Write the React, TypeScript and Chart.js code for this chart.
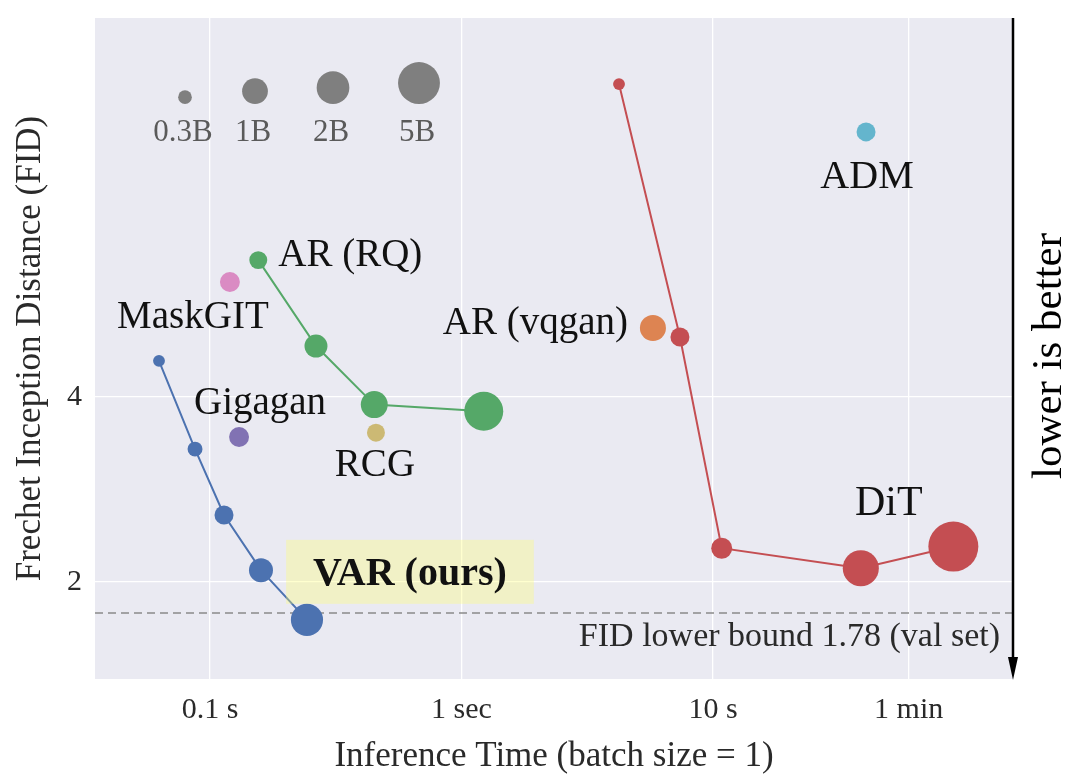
import React, { useEffect, useRef } from 'react';
import { Chart, registerables } from 'chart.js';

Chart.register(...registerables);

// ---------- data ----------
const X_TICKS = [0.1, 1, 10, 60];
const X_TICK_LABELS = ['0.1 s', '1 sec', '10 s', '1 min'];
const Y_TICKS = [2, 4];
const X_MIN = 0.0349;
const X_MAX = 155.9;
const Y_MIN = 1.39;
const Y_MAX = 16.55;
const FID_LOWER_BOUND = 1.78;

// VAR (ours)
const VAR_TIME = [0.0627, 0.0872, 0.1137, 0.1595, 0.243];
const VAR_FID = [4.58, 3.29, 2.57, 2.09, 1.735];
const VAR_PARAMS = [0.25, 0.34, 0.51, 0.84, 1.9];

// AR (RQ)
const RQ_TIME = [0.1556, 0.2639, 0.45, 1.226];
const RQ_FID = [6.68, 4.84, 3.887, 3.792];
const RQ_PARAMS = [0.46, 0.76, 1.13, 3.75];

// DiT
const DIT_TIME = [4.23, 7.39, 10.83, 38.7, 90.3];
const DIT_FID = [12.92, 5.007, 2.269, 2.105, 2.283];
const DIT_PARAMS = [0.25, 0.51, 0.62, 2.8, 11.2];

// single models
const SINGLE_NAMES = ['MaskGIT', 'Gigagan', 'RCG', 'AR (vqgan)', 'ADM'];
const SINGLE_TIME = [0.12, 0.1305, 0.457, 5.77, 40.6];
const SINGLE_FID = [6.155, 3.443, 3.499, 5.18, 10.8];
const SINGLE_PARAMS = [0.56, 0.56, 0.46, 1.03, 0.51];

// size legend (billions of params)
const SIZE_LEGEND = [0.3, 1, 2, 5];
const SIZE_LEGEND_LABELS = ['0.3B', '1B', '2B', '5B'];

// ---------- styles ----------
const SERIF = '"Liberation Serif", "Times New Roman", serif';
const C_BLUE = '#4C72B0';
const C_GREEN = '#55A868';
const C_RED = '#C44E52';
const SINGLE_COLORS = ['#DA8BC3', '#8172B3', '#CCB974', '#DD8452', '#64B5CD'];
const BG = '#EAEAF2';
const AXIS_TEXT = '#2a2a2a';

const sizeRadius = (p: number) => Math.max(4, 12.87 + 5.015 * Math.log(p));

const SERIES: Record<string, { t: number[]; f: number[] }> = {
  VAR: { t: VAR_TIME, f: VAR_FID },
  RQ: { t: RQ_TIME, f: RQ_FID },
  DIT: { t: DIT_TIME, f: DIT_FID },
  SINGLE: { t: SINGLE_TIME, f: SINGLE_FID },
};

// annotation placement (pixel offsets from an anchor point)
const ANNOTATIONS = [
  { text: 'AR (RQ)', s: 'RQ', i: 0, dx: 20, dy: -4, align: 'left', size: 39, bold: false },
  { text: SINGLE_NAMES[0], s: 'SINGLE', i: 0, dx: -37, dy: 36, align: 'center', size: 39, bold: false },
  { text: SINGLE_NAMES[3], s: 'SINGLE', i: 3, dx: -25, dy: -4, align: 'right', size: 39, bold: false },
  { text: SINGLE_NAMES[1], s: 'SINGLE', i: 1, dx: 21, dy: -33, align: 'center', size: 39, bold: false },
  { text: SINGLE_NAMES[2], s: 'SINGLE', i: 2, dx: -1, dy: 33, align: 'center', size: 39, bold: false },
  { text: SINGLE_NAMES[4], s: 'SINGLE', i: 4, dx: 1, dy: 46, align: 'center', size: 40, bold: false },
  { text: 'DiT', s: 'DIT', i: 3, dx: 28, dy: -64, align: 'center', size: 42, bold: false },
];

const zip = (t: number[], f: number[], p: number[]) =>
  t.map((x, i) => ({ x, y: f[i], p: p[i] }));

const radiusFn = (c: any) => (c.raw && c.raw.p ? sizeRadius(c.raw.p) : 5);

const noPad = (s: any) => {
  s.paddingTop = 0;
  s.paddingBottom = 0;
  s.paddingLeft = 0;
  s.paddingRight = 0;
};

const decor = {
  id: 'decor',
  beforeDraw(chart: any) {
    const { ctx, chartArea: a } = chart;
    ctx.save();
    ctx.fillStyle = BG;
    ctx.fillRect(a.left, a.top, a.right - a.left, a.bottom - a.top);
    ctx.restore();
  },
  beforeDatasetsDraw(chart: any) {
    const { ctx, chartArea: a, scales } = chart;
    const y = scales.y.getPixelForValue(FID_LOWER_BOUND);
    ctx.save();
    ctx.strokeStyle = '#8a8a8a';
    ctx.lineWidth = 1.5;
    ctx.setLineDash([8, 5]);
    ctx.beginPath();
    ctx.moveTo(a.left, y);
    ctx.lineTo(a.right, y);
    ctx.stroke();
    ctx.restore();
  },
  afterDatasetsDraw(chart: any) {
    const { ctx, chartArea: a, scales } = chart;
    const px = (s: string, i: number) => ({
      x: scales.x.getPixelForValue(SERIES[s].t[i]),
      y: scales.y.getPixelForValue(SERIES[s].f[i]),
    });
    ctx.save();

    // VAR (ours) highlighted label
    const vp = px('VAR', VAR_TIME.length - 1);
    const vx = vp.x + 103;
    const vy = vp.y - 45;
    ctx.font = `bold 40px ${SERIF}`;
    const vw = ctx.measureText('VAR (ours)').width;
    ctx.fillStyle = 'rgba(255, 255, 110, 0.33)';
    ctx.fillRect(vx - vw / 2 - 27, vy - 35, vw + 54, 64);
    ctx.fillStyle = '#111';
    ctx.textAlign = 'center';
    ctx.textBaseline = 'middle';
    ctx.fillText('VAR (ours)', vx, vy);

    // annotations
    for (const an of ANNOTATIONS) {
      const p = px(an.s, an.i);
      ctx.font = `${an.bold ? 'bold ' : ''}${an.size}px ${SERIF}`;
      ctx.textAlign = an.align as CanvasTextAlign;
      ctx.textBaseline = 'middle';
      ctx.fillStyle = '#111';
      ctx.fillText(an.text, p.x + an.dx, p.y + an.dy);
    }

    // size legend
    const lx = [90, 160, 238, 324];
    SIZE_LEGEND.forEach((s, i) => {
      const r = sizeRadius(s);
      const cx = a.left + lx[i];
      ctx.fillStyle = '#7f7f7f';
      ctx.beginPath();
      ctx.arc(cx, a.top + 86 - r, r, 0, Math.PI * 2);
      ctx.fill();
      ctx.font = `31px ${SERIF}`;
      ctx.fillStyle = '#5a5a5a';
      ctx.textAlign = 'center';
      ctx.textBaseline = 'middle';
      ctx.fillText(SIZE_LEGEND_LABELS[i], cx - 2, a.top + 115);
    });

    // FID lower bound text
    const fy = scales.y.getPixelForValue(FID_LOWER_BOUND);
    ctx.font = `34px ${SERIF}`;
    ctx.fillStyle = '#2a2a2a';
    ctx.textAlign = 'right';
    ctx.textBaseline = 'middle';
    ctx.fillText('FID lower bound 1.78 (val set)', a.right - 13, fy + 24);

    // right arrow
    ctx.strokeStyle = '#000';
    ctx.lineWidth = 2.5;
    ctx.beginPath();
    ctx.moveTo(a.right, a.top);
    ctx.lineTo(a.right, a.bottom - 18);
    ctx.stroke();
    ctx.fillStyle = '#000';
    ctx.beginPath();
    ctx.moveTo(a.right, a.bottom + 1);
    ctx.lineTo(a.right - 5, a.bottom - 22);
    ctx.lineTo(a.right + 5, a.bottom - 22);
    ctx.closePath();
    ctx.fill();

    // lower is better
    ctx.save();
    ctx.translate(a.right + 37, 356);
    ctx.rotate(-Math.PI / 2);
    ctx.font = `43px ${SERIF}`;
    ctx.fillStyle = '#000';
    ctx.textAlign = 'center';
    ctx.textBaseline = 'middle';
    ctx.fillText('lower is better', 0, 0);
    ctx.restore();

    ctx.restore();
  },
};

export default function App() {
  const ref = useRef<HTMLCanvasElement>(null);
  useEffect(() => {
    if (!ref.current) return;
    const lineDs = (label: string, data: any[], color: string) => ({
      label,
      data,
      showLine: true,
      borderColor: color,
      backgroundColor: color,
      borderWidth: 2,
      pointBackgroundColor: color,
      pointBorderWidth: 0,
      pointRadius: radiusFn,
    });
    const singles = SINGLE_NAMES.map((n, i) => ({
      label: n,
      data: [{ x: SINGLE_TIME[i], y: SINGLE_FID[i], p: SINGLE_PARAMS[i] }],
      showLine: false,
      borderColor: SINGLE_COLORS[i],
      backgroundColor: SINGLE_COLORS[i],
      pointBackgroundColor: SINGLE_COLORS[i],
      pointBorderWidth: 0,
      pointRadius: radiusFn,
    }));
    const chart = new Chart(ref.current, {
      type: 'scatter',
      data: {
        datasets: [
          lineDs('VAR', zip(VAR_TIME, VAR_FID, VAR_PARAMS), C_BLUE),
          lineDs('AR (RQ)', zip(RQ_TIME, RQ_FID, RQ_PARAMS), C_GREEN),
          lineDs('DiT', zip(DIT_TIME, DIT_FID, DIT_PARAMS), C_RED),
          ...singles,
        ] as any,
      },
      options: {
        responsive: false,
        animation: false,
        devicePixelRatio: 1,
        events: [],
        layout: { autoPadding: false, padding: { top: 18, right: 67, left: 0, bottom: 0 } },
        plugins: { legend: { display: false }, tooltip: { enabled: false } },
        scales: {
          x: {
            type: 'logarithmic',
            min: X_MIN,
            max: X_MAX,
            afterBuildTicks: (s: any) => {
              s.ticks = X_TICKS.map((v) => ({ value: v }));
            },
            afterFit: (s: any) => {
              s.height = 105;
              noPad(s);
            },
            ticks: {
              autoSkip: false,
              maxRotation: 0,
              padding: 13,
              color: AXIS_TEXT,
              font: { family: SERIF, size: 30 },
              callback: (v: any) => {
                const i = X_TICKS.indexOf(Number(v));
                return i >= 0 ? X_TICK_LABELS[i] : '';
              },
            },
            grid: { color: '#ffffff', lineWidth: 1.3, drawTicks: false },
            border: { display: false },
            title: {
              display: true,
              text: 'Inference Time (batch size = 1)',
              color: AXIS_TEXT,
              font: { family: SERIF, size: 35 },
              padding: { top: 0, bottom: 6 },
            },
          },
          y: {
            type: 'logarithmic',
            min: Y_MIN,
            max: Y_MAX,
            afterBuildTicks: (s: any) => {
              s.ticks = Y_TICKS.map((v) => ({ value: v }));
            },
            afterFit: (s: any) => {
              s.width = 95;
              noPad(s);
            },
            ticks: {
              autoSkip: false,
              padding: 13,
              color: AXIS_TEXT,
              font: { family: SERIF, size: 30 },
              callback: (v: any) => String(v),
            },
            grid: { color: '#ffffff', lineWidth: 1.3, drawTicks: false },
            border: { display: false },
            title: {
              display: true,
              text: 'Frechet Inception Distance (FID)',
              color: AXIS_TEXT,
              font: { family: SERIF, size: 35 },
              padding: { top: 10, bottom: 0 },
            },
          },
        },
      } as any,
      plugins: [decor],
    });
    return () => chart.destroy();
  }, []);
  return (
    <div style={{ position: 'fixed', left: 0, top: 0, width: 1080, height: 784, background: '#fff' }}>
      <canvas ref={ref} width={1080} height={784} />
    </div>
  );
}
